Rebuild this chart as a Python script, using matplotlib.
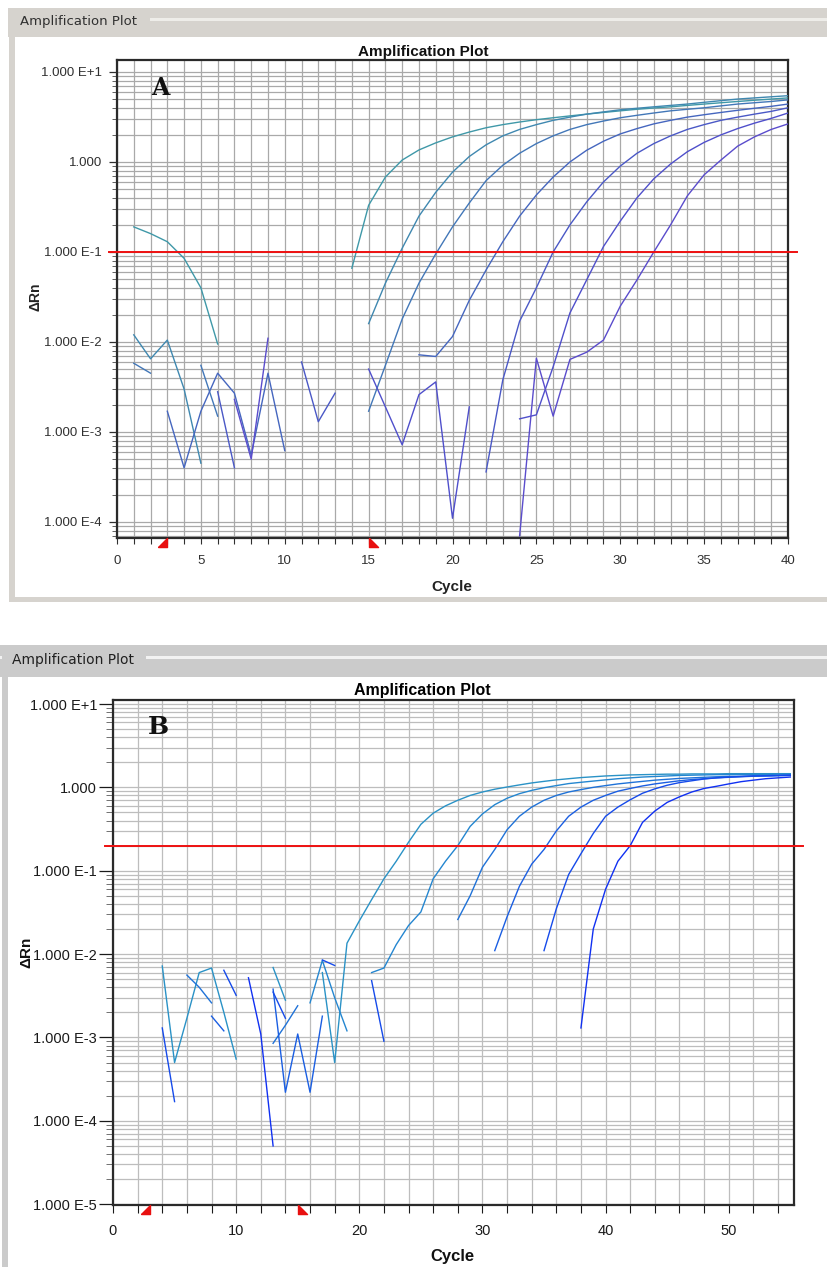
import numpy as np
import matplotlib
matplotlib.use('Agg')
import matplotlib.pyplot as plt
from matplotlib.patches import Rectangle
from matplotlib.ticker import LogLocator, MultipleLocator, FuncFormatter, NullFormatter

nan = np.nan

# ====== Panel A data (cycles 1..40) ======
cycles_a = np.arange(1, 41)
a_curve1 = [0.19, 0.16, 0.13, 0.085, 0.04, 0.0095, nan, nan, nan, nan, nan, nan, nan,
            0.066, 0.33, 0.68, 1.05, 1.36, 1.63, 1.9, 2.15, 2.4, 2.6, 2.78, 2.95, 3.1, 3.25,
            3.4, 3.55, 3.7, 3.85, 3.98, 4.1, 4.25, 4.4, 4.55, 4.7, 4.85, 5.0, 5.15]
a_curve2 = [0.012, 0.0065, 0.0105, 0.003, 0.00045, nan, nan, nan, nan, nan, nan, nan, nan, nan,
            0.016, 0.045, 0.11, 0.25, 0.46, 0.77, 1.15, 1.55, 1.95, 2.3, 2.6, 2.9, 3.15, 3.4,
            3.6, 3.8, 3.95, 4.1, 4.25, 4.4, 4.6, 4.8, 5.0, 5.15, 5.3, 5.45]
a_curve3 = [0.0058, 0.0045, nan, nan, 0.0055, 0.0015, nan, nan, nan, nan, nan, nan, nan, nan,
            0.0017, 0.0055, 0.018, 0.045, 0.095, 0.19, 0.35, 0.62, 0.92, 1.25, 1.6, 1.95, 2.3,
            2.6, 2.85, 3.1, 3.3, 3.5, 3.7, 3.85, 4.0, 4.2, 4.4, 4.55, 4.7, 4.9]
a_curve4 = [nan, nan, 0.0017, 0.0004, 0.0017, 0.0045, 0.0027, 0.00055, 0.0045, 0.00062,
            nan, nan, nan, nan, nan, nan, nan,
            0.0072, 0.0069, 0.0115, 0.029, 0.063, 0.13, 0.25, 0.43, 0.68, 1.0, 1.35, 1.7, 2.05,
            2.35, 2.65, 2.9, 3.15, 3.35, 3.55, 3.75, 3.95, 4.15, 4.4]
a_curve5 = [nan, nan, nan, nan, nan, 0.0028, 0.0004, nan, nan, nan, 0.006, 0.0013, 0.0027,
            nan, nan, nan, nan, nan, nan, nan, nan,
            0.00036, 0.0038, 0.017, 0.04, 0.1, 0.2, 0.36, 0.6, 0.9, 1.25, 1.6, 1.95, 2.3, 2.6,
            2.9, 3.15, 3.4, 3.65, 4.0]
a_curve6 = [nan] * 14 + [0.005, 0.0019, 0.00072, 0.0026, 0.0036, 0.00011, 0.0019, nan, nan,
                         0.0014, 0.00155, 0.0053, 0.021, 0.049, 0.115, 0.22, 0.4, 0.65, 0.95,
                         1.3, 1.65, 2.0, 2.35, 2.7, 3.05, 3.5]
a_curve7 = [nan] * 6 + [0.0023, 0.0005, 0.011] + [nan] * 14 + \
           [7e-5, 0.0066, 0.0015, 0.0064, 0.0077, 0.0105, 0.025, 0.049, 0.1, 0.2, 0.42, 0.72,
            1.05, 1.5, 1.9, 2.3, 2.65]
a_series = [a_curve1, a_curve2, a_curve3, a_curve4, a_curve5, a_curve6, a_curve7]
a_colors = ['#3f98a8', '#3f88b0', '#4277b8', '#4566bf', '#4a58c6', '#4f4fcb', '#5a4ccc']
threshold_a = 0.1

# ====== Panel B data (cycles 1..55) ======
cycles_b = np.arange(1, 56)
b_curve1 = [nan, nan, nan, 0.0072, 0.0005, 0.0017, 0.006, 0.0068, 0.002, 0.00055, nan, nan,
            0.0069, 0.0028, nan, nan, 0.006, 0.0005, 0.0135, 0.025, 0.045, 0.08, 0.13, 0.22,
            0.36, 0.49, 0.6, 0.7, 0.8, 0.88, 0.95, 1.01, 1.07, 1.13, 1.18, 1.23, 1.27, 1.31,
            1.34, 1.37, 1.39, 1.41, 1.42, 1.43, 1.44, 1.44, 1.45, 1.45, 1.45, 1.46, 1.46, 1.46,
            1.46, 1.46, 1.46]
b_curve2 = [nan] * 15 + [0.0026, 0.0084, 0.003, 0.0012, nan,
                         0.006, 0.0068, 0.013, 0.022, 0.032, 0.08, 0.13, 0.2, 0.34, 0.48, 0.62,
                         0.74, 0.84, 0.92, 0.99, 1.05, 1.11, 1.15, 1.19, 1.23, 1.27, 1.3, 1.33,
                         1.35, 1.37, 1.39, 1.4, 1.41, 1.42, 1.42, 1.43, 1.43, 1.43, 1.44, 1.44]
b_curve3 = [nan] * 5 + [0.0056, 0.004, 0.0026] + [nan] * 4 + [0.00085, 0.0014, 0.0024] + \
           [nan] * 12 + [0.026, 0.05, 0.11, 0.18, 0.31, 0.45, 0.58, 0.7, 0.8, 0.88, 0.94, 1.0,
                         1.05, 1.1, 1.14, 1.18, 1.22, 1.25, 1.28, 1.3, 1.32, 1.34, 1.35, 1.36,
                         1.37, 1.38, 1.39, 1.4]
b_curve4 = [nan] * 7 + [0.0018, 0.0012] + [nan] * 3 + [0.0038, 0.00022, 0.0011, 0.00022, 0.0018] + \
           [nan] * 13 + [0.011, 0.028, 0.065, 0.12, 0.18, 0.3, 0.45, 0.58, 0.7, 0.8, 0.9, 0.97,
                         1.04, 1.1, 1.15, 1.2, 1.24, 1.27, 1.3, 1.32, 1.34, 1.36, 1.37, 1.38, 1.39]
b_curve5 = [nan] * 3 + [0.0013, 0.00017] + [nan] * 3 + [0.0064, 0.0032, nan, nan, 0.0035, 0.0017,
                                                      nan, nan, 0.0085, 0.0073, nan, nan, 0.0048,
                                                      0.0009] + \
           [nan] * 12 + [0.011, 0.035, 0.09, 0.16, 0.28, 0.45, 0.58, 0.71, 0.85, 0.96, 1.06, 1.14,
                         1.2, 1.26, 1.3, 1.33, 1.35, 1.37, 1.38, 1.39, 1.4]
b_curve6 = [nan] * 10 + [0.0052, 0.0011, 5e-5] + [nan] * 24 + \
           [0.0013, 0.02, 0.06, 0.13, 0.2, 0.38, 0.52, 0.66, 0.77, 0.88, 0.97, 1.03, 1.1, 1.17,
            1.22, 1.27, 1.3, 1.33]
b_series = [b_curve1, b_curve2, b_curve3, b_curve4, b_curve5, b_curve6]
b_colors = ['#2a92c6', '#2486d0', '#1f72d8', '#1a5ee2', '#154aea', '#1030f2']
threshold_b = 0.2

baseline = (3, 15)

W, H = 828, 1267
fig = plt.figure(figsize=(W / 100, H / 100), dpi=100)
fig.patch.set_facecolor('white')


def px_rect(x0, y0, x1, y1, color):
    fig.add_artist(Rectangle((x0 / W, 1 - y1 / H), (x1 - x0) / W, (y1 - y0) / H,
                             transform=fig.transFigure, facecolor=color, edgecolor='none',
                             zorder=0))


def px_text(x, y, s, **kw):
    fig.text(x / W, 1 - y / H, s, **kw)


def px_axes(x0, y0, x1, y1):
    return fig.add_axes([x0 / W, 1 - y1 / H, (x1 - x0) / W, (y1 - y0) / H])


def log_label(v, pos):
    k = int(round(np.log10(v)))
    return '1.000' if k == 0 else f'1.000 E{k:+d}'


# ====== panel frames ======
gray_a = '#d6d3ce'
px_rect(8, 8, 828, 37, gray_a)
px_rect(8, 18, 828, 21, '#eeede9')
px_rect(8, 14, 150, 30, gray_a)
px_rect(9, 8, 15, 602, gray_a)
px_rect(9, 597, 828, 602, gray_a)

gray_b = '#cbcbcb'
px_rect(0, 645, 828, 677, gray_b)
px_rect(0, 656, 828, 659, '#f2f2f2')
px_rect(3, 650, 146, 668, gray_b)
px_rect(2, 645, 8, 1267, gray_b)

px_text(20, 22, 'Amplification Plot', fontsize=9.5, family='DejaVu Sans',
        color='#303030', va='center')
px_text(12, 660, 'Amplification Plot', fontsize=10, family='DejaVu Sans',
        color='#202020', va='center')

tick_font = 'Liberation Sans'


def draw_panel(ax, cycles, series, colors, thr, grid_color, lw):
    ax.set_yscale('log')
    for vals, c in zip(series, colors):
        ax.plot(cycles, np.array(vals, dtype=float), color=c, lw=lw, zorder=3)
    ax.axhline(thr, xmin=-0.012, xmax=1.013, color='#ee1010', lw=1.4, zorder=4, clip_on=False)
    ax.yaxis.set_major_locator(LogLocator(base=10))
    ax.yaxis.set_minor_locator(LogLocator(base=10, subs=np.arange(2, 10)))
    ax.yaxis.set_minor_formatter(NullFormatter())
    ax.yaxis.set_major_formatter(FuncFormatter(log_label))
    ax.grid(True, which='both', axis='both', color=grid_color, lw=0.9, zorder=1)
    ax.set_axisbelow(True)
    for sp in ax.spines.values():
        sp.set_color('#2a2a2a')
        sp.set_linewidth(1.6)
    ax.xaxis.offsetText.set_visible(False)
    ax.yaxis.offsetText.set_visible(False)
    ax.xaxis.label.set_visible(False)
    ax.yaxis.label.set_visible(False)
    # baseline start / end markers
    trans = ax.get_xaxis_transform()
    ax.plot([baseline[0]], [0], ls='none', marker=[(-1, -1), (0, -1), (0, 0), (-1, -1)],
            ms=13, color='#e81010', transform=trans, clip_on=False, zorder=5)
    ax.plot([baseline[1]], [0], ls='none', marker=[(0, 0), (0, -1), (1, -1), (0, 0)],
            ms=13, color='#e81010', transform=trans, clip_on=False, zorder=5)


# ====== Panel A ======
ax_a = px_axes(117, 60, 788, 538)
draw_panel(ax_a, cycles_a, a_series, a_colors, threshold_a, '#a9a9a9', 1.0)
ax_a.set_xlim(0, 40)
ax_a.set_ylim(10 ** -4.178, 10 ** 1.133)
ax_a.xaxis.set_major_locator(MultipleLocator(5))
ax_a.xaxis.set_minor_locator(MultipleLocator(1))
ax_a.tick_params(axis='y', which='major', length=6, width=0.9, pad=5, labelsize=9.5,
                 colors='#303030')
ax_a.tick_params(axis='y', which='minor', length=3.5, width=0.7, colors='#606060')
ax_a.tick_params(axis='x', which='both', length=4, width=0.8, pad=8, labelsize=9.5,
                 colors='#303030')
for lab in ax_a.get_xticklabels() + ax_a.get_yticklabels():
    lab.set_family(tick_font)

px_text(423, 52, 'Amplification Plot', fontsize=11, weight='bold', family=tick_font,
        ha='center', va='center', color='#111111')
px_text(36, 297, 'ΔRn', fontsize=10, weight='bold', family=tick_font, rotation=90,
        ha='center', va='center', color='#222222')
px_text(452, 587, 'Cycle', fontsize=11, weight='bold', family=tick_font,
        ha='center', va='center', color='#222222')
px_text(160, 88, 'A', fontsize=17, weight='bold', family='DejaVu Serif',
        ha='center', va='center', color='#111111')

# ====== Panel B ======
ax_b = px_axes(113, 700, 794, 1205)
draw_panel(ax_b, cycles_b, b_series, b_colors, threshold_b, '#bdbdbd', 1.0)
ax_b.set_xlim(0, 55.3)
ax_b.set_ylim(10 ** -5.01, 10 ** 1.048)
ax_b.xaxis.set_major_locator(MultipleLocator(10))
ax_b.xaxis.set_minor_locator(MultipleLocator(2))
ax_b.tick_params(axis='y', which='major', length=10, width=0.9, pad=1.5, labelsize=10.5,
                 colors='#1a1a1a')
ax_b.tick_params(axis='y', which='minor', length=5, width=0.7, colors='#707070')
ax_b.tick_params(axis='x', which='both', length=5.5, width=0.8, pad=8, labelsize=10.5,
                 colors='#1a1a1a')
for lab in ax_b.get_xticklabels() + ax_b.get_yticklabels():
    lab.set_family(tick_font)

px_text(422, 690, 'Amplification Plot', fontsize=11.5, weight='bold', family=tick_font,
        ha='center', va='center', color='#000000')
px_text(26, 952, 'ΔRn', fontsize=11, weight='bold', family=tick_font, rotation=90,
        ha='center', va='center', color='#111111')
px_text(452, 1256, 'Cycle', fontsize=12, weight='bold', family=tick_font,
        ha='center', va='center', color='#111111')
px_text(158, 727, 'B', fontsize=18, weight='bold', family='DejaVu Serif',
        ha='center', va='center', color='#111111')

plt.savefig('out.png', dpi=100)
plt.close()
